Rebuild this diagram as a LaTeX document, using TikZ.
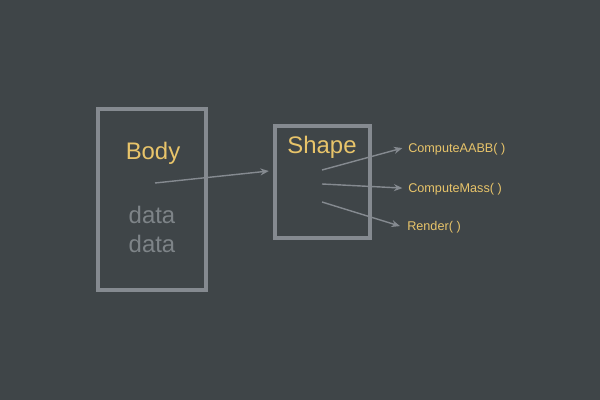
\documentclass[tikz,border=0pt]{standalone}
\usepackage{fontspec}
\setmainfont{Liberation Sans}
\usetikzlibrary{arrows.meta, positioning}
\definecolor{bgcol}{HTML}{3F4548}
\definecolor{framecol}{HTML}{858A90}
\definecolor{labelcol}{HTML}{E8C46A}
\definecolor{datacol}{HTML}{7E8488}
\tikzstyle{frame} = [rectangle, draw=framecol, line width=2.8pt, inner sep=0pt]
\tikzstyle{title} = [text=labelcol, font=\fontsize{17}{20}\selectfont]
\tikzstyle{field} = [text=datacol, font=\fontsize{17}{20}\selectfont]
\tikzstyle{method} = [text=labelcol, font=\fontsize{9}{11}\selectfont, anchor=west, inner sep=0pt]
\tikzstyle{arrow} = [draw=framecol, line width=1pt, -{Stealth[length=6pt, width=5pt]}]

\begin{document}
\begin{tikzpicture}[x=0.025cm, y=-0.025cm]
    \fill [bgcol] (0,0) rectangle (600,400);
    \useasboundingbox (0,0) rectangle (600,400);

    \node (body) [frame, minimum width=2.7cm, minimum height=4.525cm] at (152,199.5) {};
    \node (shape) [frame, minimum width=2.375cm, minimum height=2.8cm] at (322.5,182) {};

    \node (bodyname) [title] at (153,153) {Body};
    \node (data1) [field] at (152,215) {data};
    \node (data2) [field] at (152,244) {data};
    \node (shapename) [title] at (322,147) {Shape};

    \node (aabb) [method] at (408,149.5) {ComputeAABB( )};
    \node (mass) [method] at (408,189.5) {ComputeMass( )};
    \node (render) [method] at (407,227.5) {Render( )};

    \coordinate (bodyptr) at (155,183);
    \coordinate (vt1) at (322,170);
    \coordinate (vt2) at (322,184);
    \coordinate (vt3) at (322,202);

    \draw [arrow] (bodyptr) -- ([xshift=-3pt, yshift=7.8pt]shape.west);
    \draw [arrow] (vt1) -- ([xshift=-4pt, yshift=1pt]aabb.west);
    \draw [arrow] (vt2) -- ([xshift=-4pt, yshift=1pt]mass.west);
    \draw [arrow] (vt3) -- ([xshift=-5pt, yshift=1pt]render.west);
\end{tikzpicture}
\end{document}
